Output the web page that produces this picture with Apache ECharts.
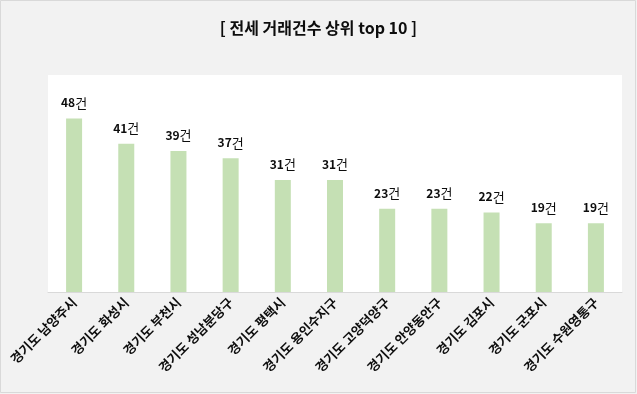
<!DOCTYPE html>
<html><head><meta charset="utf-8">
<script src="https://cdn.jsdelivr.net/npm/echarts@6/dist/echarts.min.js"></script>
<style>html,body{margin:0;padding:0;background:#f2f2f2;}#c{width:637px;height:394px;}</style>
</head><body><div id="c"></div>
<script>
const categories = ['경기도 남양주시','경기도 화성시','경기도 부천시','경기도 성남분당구','경기도 평택시','경기도 용인수지구','경기도 고양덕양구','경기도 안양동안구','경기도 김포시','경기도 군포시','경기도 수원영통구'];
const values = [48,41,39,37,31,31,23,23,22,19,19];
const titleText = '[ 전세 거래건수 상위 top 10 ]';
const FONT = '"Noto Sans CJK KR", "Noto Sans", sans-serif';
const chart = echarts.init(document.getElementById('c'));
chart.setOption({
  backgroundColor: '#f2f2f2',
  animation: false,
  title: {text: titleText, left: 'center', top: 15, textStyle: {fontFamily: FONT, fontSize: 16, fontWeight: 'bold', color: '#0d0d0d'}},
  graphic: [{type: 'rect', shape: {x: 0.5, y: 0.5, width: 635, height: 392}, style: {fill: 'none', stroke: '#d9d9d9', lineWidth: 1}, silent: true}],
  grid: {left: 48, right: 15, top: 75, bottom: 102, show: true, backgroundColor: '#ffffff', borderWidth: 0},
  xAxis: {type: 'category', data: categories,
    axisLine: {lineStyle: {color: '#d9d9d9'}}, axisTick: {show: false},
    axisLabel: {rotate: 45, interval: 0, margin: 8, fontFamily: FONT, fontSize: 13, fontWeight: 'bold', color: '#0d0d0d'}},
  yAxis: {type: 'value', min: 0, max: 60, show: false, splitLine: {show: false}},
  series: [{type: 'bar', data: values, barWidth: 16, itemStyle: {color: '#c5e0b4'},
    label: {show: true, position: 'top', distance: 9,
      formatter: p => '{n|' + p.value + '}{k|건}',
      rich: {n: {fontFamily: FONT, fontSize: 12, fontWeight: 'bold', color: '#0d0d0d'},
             k: {fontFamily: FONT, fontSize: 13, fontWeight: 'normal', color: '#0d0d0d'}}}}]
});
</script></body></html>
